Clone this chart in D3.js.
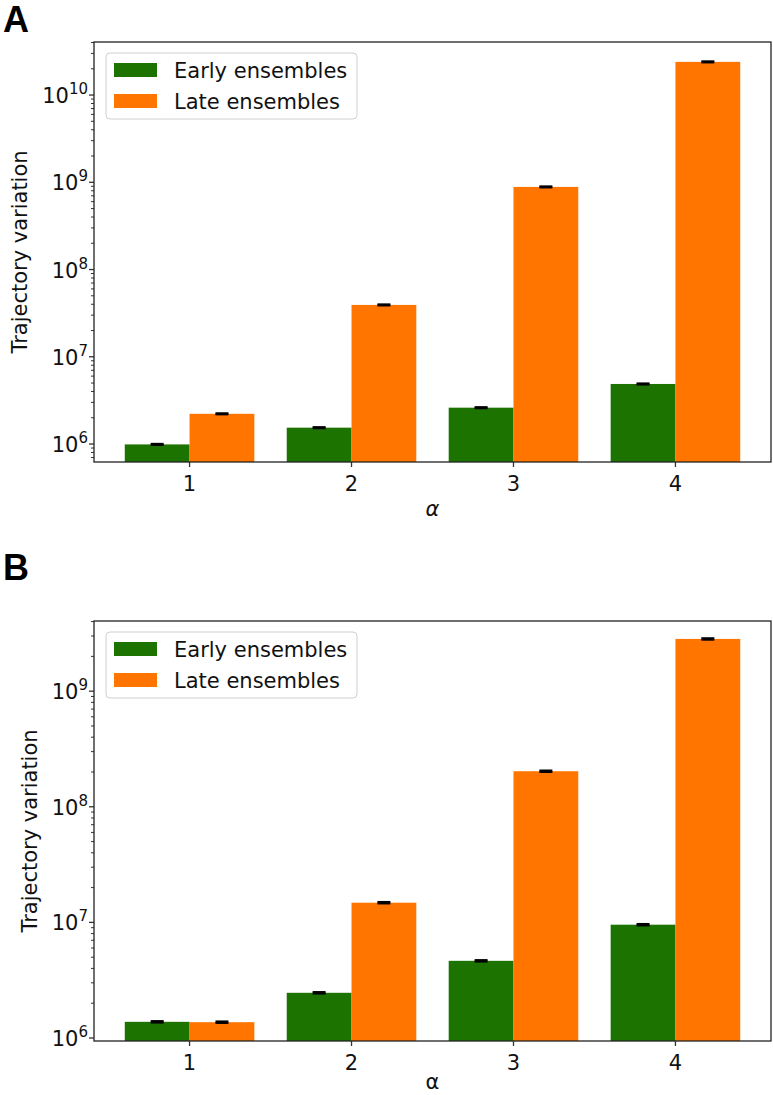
<!DOCTYPE html>
<html>
<head>
<meta charset="utf-8">
<script src="https://cdn.jsdelivr.net/npm/d3@7"></script>
<style>
  html, body { margin: 0; padding: 0; background: #fff; }
  svg { display: block; }
</style>
</head>
<body>
<svg id="chart" width="773" height="1095"></svg>
<script>
// ---------- data ----------
const categories = ["1", "2", "3", "4"];
const seriesNames = ["Early ensembles", "Late ensembles"];
const seriesColors = ["#1c7300", "#ff7500"];

// Panel A
const earlyA = [0.99e6, 1.54e6, 2.61e6, 4.88e6];
const lateA = [2.22e6, 3.93e7, 8.85e8, 2.4e10];
const earlyErrA = [1.5e4, 2.3e4, 3.9e4, 7.3e4];
const lateErrA = [3.3e4, 5.9e5, 1.3e7, 3.6e8];
const yTicksA = [1e6, 1e7, 1e8, 1e9, 1e10];

// Panel B
const earlyB = [1.38e6, 2.46e6, 4.65e6, 9.55e6];
const lateB = [1.37e6, 1.48e7, 2.03e8, 2.83e9];
const earlyErrB = [2.1e4, 3.7e4, 7.0e4, 1.4e5];
const lateErrB = [2.1e4, 2.2e5, 3.0e6, 4.2e7];
const yTicksB = [1e6, 1e7, 1e8, 1e9];

const yLabel = "Trajectory variation";
const xLabel = "α";

// ---------- drawing ----------
const svg = d3.select("#chart");
const FONT = "DejaVu Sans, sans-serif";

function drawPanel(cfg) {
  const g = svg.append("g");
  const L = 94, R = 771, T = cfg.top, B = cfg.top + 420;
  const x = d3.scaleLinear().domain([-0.59, 3.59]).range([L, R]);
  const y = d3.scaleLog().domain(cfg.yDomain).range([B, T]);
  const bw = x(0.4) - x(0);

  // panel letter
  g.append("text").attr("x", 3).attr("y", cfg.letterY)
    .attr("font-family", "Liberation Sans, Arial, sans-serif")
    .attr("font-weight", "bold").attr("font-size", 36)
    .attr("fill", "#000").text(cfg.letter);

  // bars
  const series = [cfg.early, cfg.late];
  const errs = [cfg.earlyErr, cfg.lateErr];
  series.forEach((vals, s) => {
    const off = s === 0 ? -0.4 : 0;
    g.selectAll(null).data(vals).enter().append("rect")
      .attr("x", (d, i) => x(i + off))
      .attr("width", bw)
      .attr("y", d => y(d))
      .attr("height", d => B - y(d))
      .attr("fill", seriesColors[s]);
  });
  // error bars
  series.forEach((vals, s) => {
    const off = s === 0 ? -0.2 : 0.2;
    vals.forEach((v, i) => {
      const cx = x(i + off), e = errs[s][i];
      g.append("line").attr("x1", cx).attr("x2", cx)
        .attr("y1", y(v - e)).attr("y2", y(v + e))
        .attr("stroke", "#000").attr("stroke-width", 1.5);
      [v - e, v + e].forEach(ev => {
        g.append("line").attr("x1", cx - 6.5).attr("x2", cx + 6.5)
          .attr("y1", y(ev)).attr("y2", y(ev))
          .attr("stroke", "#000").attr("stroke-width", 2);
      });
    });
  });

  // y axis ticks (major + minor)
  const lo = Math.floor(Math.log10(cfg.yDomain[0])), hi = Math.ceil(Math.log10(cfg.yDomain[1]));
  for (let k = lo; k <= hi; k++) {
    for (let m = 2; m <= 9; m++) {
      const v = m * Math.pow(10, k);
      if (v >= cfg.yDomain[0] && v <= cfg.yDomain[1]) {
        g.append("line").attr("x1", L - 3).attr("x2", L)
          .attr("y1", y(v)).attr("y2", y(v))
          .attr("stroke", "#333").attr("stroke-width", 1);
      }
    }
  }
  cfg.yTicks.forEach(v => {
    g.append("line").attr("x1", L - 5).attr("x2", L)
      .attr("y1", y(v)).attr("y2", y(v))
      .attr("stroke", "#333").attr("stroke-width", 1.3);
    const t = g.append("text").attr("x", L - 6).attr("y", y(v) + 8)
      .attr("text-anchor", "end").attr("font-family", FONT)
      .attr("font-size", 21).attr("fill", "#111");
    t.append("tspan").text("10");
    t.append("tspan").attr("dy", -9).attr("font-size", 15)
      .text(String(Math.round(Math.log10(v))));
  });

  // x ticks
  categories.forEach((c, i) => {
    g.append("line").attr("x1", x(i)).attr("x2", x(i))
      .attr("y1", B).attr("y2", B + 5)
      .attr("stroke", "#333").attr("stroke-width", 1.3);
    g.append("text").attr("x", x(i)).attr("y", B + 29)
      .attr("text-anchor", "middle").attr("font-family", FONT)
      .attr("font-size", 21).attr("fill", "#111").text(c);
  });

  // frame
  g.append("rect").attr("x", L).attr("y", T).attr("width", R - L).attr("height", B - T)
    .attr("fill", "none").attr("stroke", "#222").attr("stroke-width", 1.3);

  // axis labels
  g.append("text").attr("x", (L + R) / 2 + cfg.alphaDx).attr("y", B + cfg.alphaDy)
    .attr("text-anchor", "middle").attr("font-family", FONT)
    .attr("font-style", cfg.alphaItalic ? "italic" : "normal")
    .attr("font-size", 21).attr("fill", "#111").text(xLabel);
  g.append("text")
    .attr("transform", `translate(${cfg.yLabelX},${(T + B) / 2}) rotate(-90)`)
    .attr("text-anchor", "middle").attr("font-family", FONT)
    .attr("font-size", 21).attr("fill", "#111").text(yLabel);

  // legend
  const lx = 106, ly = T + 11;
  g.append("rect").attr("x", lx).attr("y", ly).attr("width", 251).attr("height", 66)
    .attr("rx", 4).attr("fill", "#fff").attr("fill-opacity", 0.8)
    .attr("stroke", "#d0d0d0").attr("stroke-width", 1);
  seriesNames.forEach((n, s) => {
    g.append("rect").attr("x", lx + 8).attr("y", ly + 10 + s * 31)
      .attr("width", 43).attr("height", 14).attr("fill", seriesColors[s]);
    g.append("text").attr("x", lx + 68).attr("y", ly + 24.5 + s * 31)
      .attr("font-family", FONT).attr("font-size", 21).attr("fill", "#111").text(n);
  });
}

drawPanel({
  letter: "A", letterY: 32, top: 42,
  yDomain: [Math.pow(10, 5.794), Math.pow(10, 10.608)],
  early: earlyA, late: lateA, earlyErr: earlyErrA, lateErr: lateErrA,
  yTicks: yTicksA, yLabelX: 27, alphaItalic: true, alphaDx: 0, alphaDy: 54
});
drawPanel({
  letter: "B", letterY: 580, top: 621,
  yDomain: [Math.pow(10, 5.974), Math.pow(10, 9.607)],
  early: earlyB, late: lateB, earlyErr: earlyErrB, lateErr: lateErrB,
  yTicks: yTicksB, yLabelX: 37, alphaItalic: false, alphaDx: 0, alphaDy: 48
});
</script>
</body>
</html>
